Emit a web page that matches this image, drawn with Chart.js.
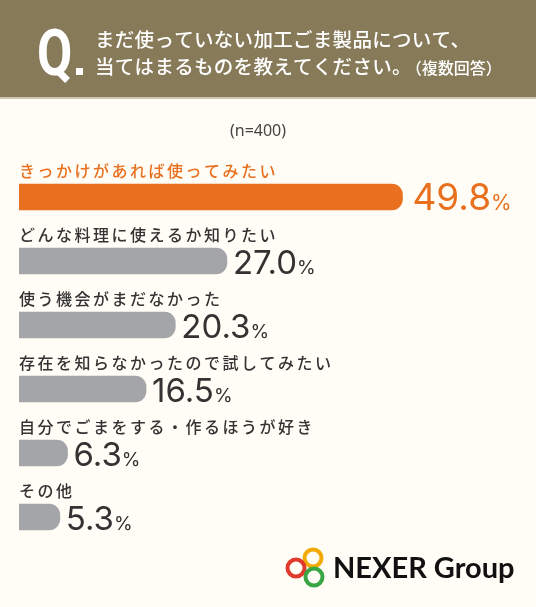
<!DOCTYPE html>
<html>
<head>
<meta charset="utf-8">
<script src="https://cdn.jsdelivr.net/npm/chart.js@4"></script>
<style>
  html, body { margin: 0; padding: 0; background: #fffdf6; }
  #wrap { position: relative; width: 536px; height: 607px; }
</style>
</head>
<body>
<div id="wrap"><canvas id="myChart"></canvas></div>
<script>
const titulo1 = 'まだ使っていない加工ごま製品について、';
const titulo2 = '当てはまるものを教えてください。';
const titulo2b = '（複数回答）';
const amostra = '(n=400)';

const categorias = [
  'きっかけがあれば使ってみたい',
  'どんな料理に使えるか知りたい',
  '使う機会がまだなかった',
  '存在を知らなかったので試してみたい',
  '自分でごまをする・作るほうが好き',
  'その他'
];
const valores = [49.8, 27.0, 20.3, 16.5, 6.3, 5.3];

const laranja = '#e8701e';
const cinza = '#a4a5a9';
const texto = '#333333';
const jp = '"Noto Sans CJK JP", "Noto Sans", sans-serif';

// cabeçalho, n=400 e logo
const fundoPlugin = {
  id: 'fundo',
  beforeDraw(chart) {
    const ctx = chart.ctx;
    ctx.save();
    ctx.fillStyle = '#fffdf6';
    ctx.fillRect(0, 0, 536, 607);
    ctx.fillStyle = '#877a59';
    ctx.fillRect(0, 0, 536, 97);
    ctx.fillStyle = '#cfc7b1';
    ctx.fillRect(0, 97, 536, 2);

    // Q.
    ctx.fillStyle = '#ffffff';
    ctx.font = 'bold 64px Roboto, sans-serif';
    ctx.textBaseline = 'alphabetic';
    ctx.save();
    ctx.translate(37, 75);
    ctx.scale(0.8, 1);
    ctx.fillText('Q', 0, 0);
    ctx.restore();
    ctx.fillRect(76, 68, 7, 7);

    ctx.font = '500 19.5px ' + jp;
    ctx.textBaseline = 'middle';
    ctx.letterSpacing = '0.3px';
    ctx.fillText(titulo1, 95, 40);
    ctx.fillText(titulo2, 95, 67);
    const w2 = ctx.measureText(titulo2).width;
    ctx.font = '500 16px ' + jp;
    ctx.letterSpacing = '0px';
    ctx.fillText(titulo2b, 95 + w2 - 6, 68);

    // n=400
    ctx.fillStyle = '#444444';
    ctx.font = '16px "Noto Sans", sans-serif';
    ctx.textAlign = 'center';
    ctx.fillText(amostra, 258, 131);
    ctx.textAlign = 'left';

    // logo
    ctx.lineWidth = 4;
    [['#f0aa00', 313, 558], ['#e03a2c', 296, 568], ['#3aa545', 314, 577]].forEach(([cor, x, y]) => {
      ctx.strokeStyle = cor;
      ctx.beginPath();
      ctx.arc(x, y, 8.5, 0, Math.PI * 2);
      ctx.stroke();
    });
    ctx.fillStyle = '#111111';
    ctx.font = 'bold 29px Lato, "Noto Sans", sans-serif';
    ctx.textBaseline = 'alphabetic';
    ctx.fillText('NEXER Group', 333, 578, 185);
    ctx.restore();
  }
};

// rótulos acima das barras e valores à direita
const rotulosPlugin = {
  id: 'rotulos',
  afterDatasetsDraw(chart) {
    const ctx = chart.ctx;
    const meta = chart.getDatasetMeta(0);
    ctx.save();
    meta.data.forEach((bar, i) => {
      const cor = i === 0 ? laranja : texto;
      ctx.fillStyle = cor;
      ctx.font = '500 16px ' + jp;
      ctx.letterSpacing = '2.5px';
      ctx.textBaseline = 'middle';
      ctx.fillText(categorias[i], 19, bar.y - 26);

      ctx.letterSpacing = '0px';
      ctx.textBaseline = 'alphabetic';
      const tamanho = i === 0 ? 37 : 33;
      ctx.font = tamanho + 'px Inter, sans-serif';
      const num = valores[i].toFixed(1);
      const x0 = bar.x + (i === 0 ? 10 : 6);
      const yb = bar.y + 13;
      ctx.fillText(num, x0, yb);
      const w = ctx.measureText(num).width;
      ctx.font = (i === 0 ? 21 : 19) + 'px Inter, sans-serif';
      ctx.fillText('%', x0 + w, yb);
    });
    ctx.restore();
  }
};

const ctx = document.getElementById('myChart').getContext('2d');
new Chart(ctx, {
  type: 'bar',
  data: {
    labels: categorias,
    datasets: [{
      data: valores,
      backgroundColor: valores.map((_, i) => i === 0 ? laranja : cinza),
      barThickness: 26,
      borderRadius: 11,
      borderSkipped: 'start'
    }]
  },
  options: {
    indexAxis: 'y',
    responsive: true,
    maintainAspectRatio: false,
    animation: false,
    layout: { padding: { top: 165, bottom: 58, left: 19, right: 132 } },
    plugins: { legend: { display: false }, tooltip: { enabled: false } },
    scales: {
      x: { display: false, min: 0, max: 50 },
      y: { display: false }
    }
  },
  plugins: [fundoPlugin, rotulosPlugin]
});
</script>
</body>
</html>
